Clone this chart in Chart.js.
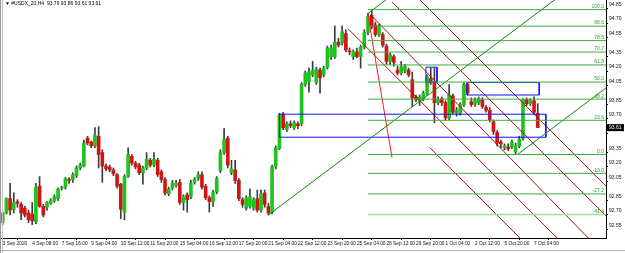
<!DOCTYPE html>
<html>
<head>
<meta charset="utf-8">
<script src="https://cdn.jsdelivr.net/npm/chart.js@4.4.0/dist/chart.umd.min.js"></script>
<style>
  html, body { margin: 0; padding: 0; background: #fff; }
</style>
</head>
<body>
<canvas id="myChart" width="625" height="253"></canvas>
<script>
// #USDX_20, H4 candles (bar index 0 = 3 Sep 2020 00:00)
const opens = [
  92.62, 92.72, 92.87, 92.76, 92.84, 92.81, 92.77, 92.72, 92.71, 92.63,
  93.00, 92.79, 92.78, 92.82, 92.85, 92.87, 92.98, 92.99, 93.07, 93.07,
  93.11, 93.19, 93.21, 93.50, 93.46, 93.42, 93.52, 93.35, 93.21, 93.20,
  93.17, 93.12, 93.02, 92.73, 93.10, 93.31, 93.24, 93.22, 93.14, 93.19,
  93.27, 93.22, 93.27, 93.15, 93.07, 92.92, 92.98, 93.01, 93.04, 92.83,
  92.91, 92.89, 93.04, 93.08, 93.12, 93.00, 92.88, 92.84, 92.94, 93.16,
  93.35, 93.50, 93.14, 93.17, 93.06, 92.86, 92.77, 92.79, 92.77, 92.87,
  92.75, 92.93, 92.79, 92.73, 93.20, 93.39, 93.75, 93.59, 93.65, 93.61,
  93.65, 93.65, 94.06, 94.09, 94.16, 94.08, 94.21, 94.16, 94.24, 94.35,
  94.35, 94.50, 94.49, 94.59, 94.41, 94.35, 94.40, 94.35, 94.45, 94.60,
  94.78, 94.68, 94.58, 94.58, 94.46, 94.30, 94.35, 94.21, 94.18, 94.20,
  94.21, 94.11, 93.93, 93.89, 93.91, 93.97, 94.12, 94.09, 93.87, 93.91,
  93.87, 93.71, 93.94, 93.76, 93.76, 93.85, 94.06, 93.88, 93.85, 93.87,
  93.90, 93.82, 93.79, 93.67, 93.56, 93.46, 93.40, 93.41, 93.41, 93.36,
  93.42, 93.50, 93.90, 93.86, 93.89, 93.76
];
const highs = [
  92.73, 92.88, 93.03, 92.93, 92.86, 92.83, 92.79, 92.75, 92.83, 93.03,
  93.10, 92.81, 92.84, 92.87, 92.91, 92.98, 93.00, 93.09, 93.09, 93.14,
  93.21, 93.24, 93.48, 93.52, 93.47, 93.61, 93.62, 93.38, 93.23, 93.22,
  93.19, 93.13, 93.03, 93.12, 93.40, 93.33, 93.26, 93.24, 93.21, 93.35,
  93.29, 93.35, 93.29, 93.17, 93.09, 92.99, 93.06, 93.06, 93.07, 92.91,
  92.93, 93.06, 93.09, 93.15, 93.15, 93.02, 92.90, 92.96, 93.10, 93.38,
  93.60, 93.52, 93.27, 93.27, 93.08, 92.88, 92.90, 92.97, 92.88, 92.96,
  92.96, 92.96, 92.82, 93.22, 93.42, 93.76, 93.77, 93.67, 93.68, 93.68,
  93.67, 94.08, 94.20, 94.23, 94.30, 94.24, 94.23, 94.25, 94.46, 94.47,
  94.67, 94.54, 94.67, 94.63, 94.44, 94.42, 94.44, 94.47, 94.63, 94.80,
  94.84, 94.71, 94.69, 94.60, 94.48, 94.39, 94.37, 94.25, 94.30, 94.27,
  94.23, 94.19, 93.95, 93.95, 93.99, 94.16, 94.23, 94.23, 93.93, 93.93,
  93.89, 94.06, 93.96, 93.82, 93.87, 94.08, 94.08, 93.92, 93.92, 93.93,
  93.92, 93.84, 93.82, 93.69, 93.58, 93.48, 93.44, 93.44, 93.48, 93.45,
  93.52, 93.91, 93.92, 93.91, 93.93, 93.86
];
const lows = [
  92.60, 92.71, 92.70, 92.72, 92.78, 92.65, 92.68, 92.62, 92.60, 92.61,
  92.78, 92.68, 92.75, 92.81, 92.83, 92.85, 92.96, 92.97, 93.03, 93.04,
  93.09, 93.17, 93.20, 93.43, 93.40, 93.40, 93.19, 93.04, 93.16, 93.15,
  93.11, 92.98, 92.66, 92.65, 93.09, 93.22, 93.18, 93.12, 93.02, 93.17,
  93.20, 93.20, 93.10, 93.04, 92.91, 92.90, 92.96, 92.99, 92.81, 92.75,
  92.73, 92.87, 93.02, 93.06, 92.97, 92.86, 92.73, 92.79, 92.92, 93.14,
  93.33, 93.19, 93.12, 93.03, 92.85, 92.78, 92.75, 92.77, 92.75, 92.73,
  92.73, 92.78, 92.70, 92.71, 93.18, 93.38, 93.59, 93.57, 93.61, 93.59,
  93.60, 93.63, 94.04, 93.98, 94.14, 94.06, 93.97, 94.14, 94.22, 94.32,
  94.33, 94.45, 94.47, 94.40, 94.37, 94.32, 94.34, 94.23, 94.43, 94.58,
  94.64, 94.56, 94.56, 94.45, 94.27, 94.27, 94.25, 94.16, 94.16, 94.18,
  94.14, 93.83, 93.88, 93.84, 93.89, 93.95, 94.06, 93.66, 93.85, 93.84,
  93.69, 93.69, 93.75, 93.73, 93.74, 93.83, 93.95, 93.83, 93.83, 93.85,
  93.81, 93.77, 93.67, 93.54, 93.42, 93.40, 93.38, 93.37, 93.39, 93.33,
  93.40, 93.48, 93.84, 93.84, 93.75, 93.61
];
const closes = [
  92.72, 92.87, 92.75, 92.83, 92.82, 92.72, 92.70, 92.65, 92.64, 92.99,
  92.79, 92.70, 92.83, 92.85, 92.89, 92.97, 92.99, 93.08, 93.06, 93.12,
  93.19, 93.22, 93.45, 93.45, 93.42, 93.53, 93.33, 93.21, 93.18, 93.17,
  93.13, 93.00, 92.76, 93.10, 93.33, 93.24, 93.20, 93.14, 93.19, 93.28,
  93.22, 93.28, 93.12, 93.07, 92.93, 92.97, 93.03, 93.03, 92.83, 92.89,
  92.86, 93.03, 93.07, 93.12, 92.99, 92.88, 92.84, 92.94, 93.08, 93.35,
  93.49, 93.22, 93.18, 93.06, 92.87, 92.81, 92.88, 92.89, 92.86, 92.75,
  92.92, 92.81, 92.72, 93.20, 93.40, 93.74, 93.61, 93.65, 93.63, 93.66,
  93.63, 94.06, 94.18, 94.19, 94.21, 94.22, 94.13, 94.23, 94.44, 94.44,
  94.50, 94.47, 94.61, 94.42, 94.40, 94.40, 94.35, 94.45, 94.60, 94.77,
  94.66, 94.58, 94.67, 94.47, 94.30, 94.37, 94.29, 94.18, 94.24, 94.25,
  94.16, 93.92, 93.90, 93.93, 93.97, 94.14, 94.08, 93.87, 93.90, 93.87,
  93.71, 93.95, 93.77, 93.79, 93.85, 94.06, 93.97, 93.85, 93.90, 93.91,
  93.83, 93.79, 93.69, 93.57, 93.45, 93.44, 93.42, 93.39, 93.46, 93.42,
  93.49, 93.90, 93.86, 93.89, 93.77, 93.61
];

// axis labels
const timeLabels = ['3 Sep 2020', '4 Sep 08:00', '7 Sep 16:00', '9 Sep 04:00', '10 Sep 12:00',
  '11 Sep 20:00', '15 Sep 04:00', '16 Sep 12:00', '17 Sep 20:00', '21 Sep 04:00', '22 Sep 12:00',
  '23 Sep 20:00', '25 Sep 04:00', '28 Sep 12:00', '29 Sep 20:00', '1 Oct 04:00', '2 Oct 12:00',
  '5 Oct 20:00', '7 Oct 04:00'];
const priceLabels = ['94.85', '94.70', '94.55', '94.35', '94.20', '94.05', '93.85', '93.70',
  '93.55', '93.35', '93.20', '93.05', '92.85', '92.70', '92.55'];

// fibonacci retracement from the 25 Sep high to the 5 Oct low
const fibLevels = [100, 88.6, 78.6, 70.7, 61.8, 50.0, 38.2, 23.6, 0.0, -13.0, -27.2, -41.4];
const fibHighBar = 100, fibLowBar = 139;

// andrews pitchfork pivots [bar, price]
const forkP1 = [72, 92.70], forkP2 = [99, 94.80], forkP3 = [139.5, 93.33];

// rectangles [bar1, price1, bar2, price2]
const boxes = [
  [75, 93.75, 147.2, 93.51],
  [114.7, 94.24, 117.7, 94.08],
  [125.8, 94.08, 145.4, 93.95]
];

// trend lines [bar1, price1, bar2, price2]
const redLine = [99, 94.78, 105.5, 93.30];
const channelLines = [
  [93.6, 94.64, 163.5, 91.95],
  [99.6, 94.79, 163.5, 92.27],
  [105.5, 94.92, 163.5, 92.69],
  [113.1, 94.94, 163.5, 93.00],
  [115.8, 93.40, 163.5, 91.56]
];

const lastPrice = closes[closes.length - 1];
const header = '#USDX_20,H4  ' + [opens, highs, lows, closes].map(a => a[a.length - 1].toFixed(2)).join(' ');

const X_MIN = -0.46, X_MAX = 163.5;
const smallFont = '"Liberation Sans", sans-serif';

function seg(a, color, width) {
  return {
    type: 'line',
    data: [{ x: a[0], y: a[1] }, { x: a[2], y: a[3] }],
    borderColor: color, borderWidth: width || 1,
    pointRadius: 0, fill: false, tension: 0, order: -1
  };
}

const datasets = [];

// candles: wicks then bodies
datasets.push({
  type: 'bar',
  data: highs.map((h, i) => ({ x: i, y: [lows[i], h] })),
  backgroundColor: '#3c3c3c',
  barThickness: 1,
  grouped: false,
  order: 2
});
datasets.push({
  type: 'bar',
  data: opens.map((o, i) => ({ x: i, y: [o, closes[i]] })),
  backgroundColor: opens.map((o, i) => closes[i] >= o ? '#1cc41c' : '#d41414'),
  borderWidth: 0,
  barThickness: 3,
  minBarLength: 1,
  grouped: false,
  order: 1
});

// fibonacci levels
const fibH = highs[fibHighBar], fibL = lows[fibLowBar];
fibLevels.forEach(lv => {
  const p = fibL + (fibH - fibL) * lv / 100;
  datasets.push(seg([fibHighBar - 1, p, X_MAX, p], lv === -41.4 ? '#9ede9e' : '#3fae3f', lv === -41.4 ? 1.5 : 1));
});

// pitchfork
const mid = [(forkP2[0] + forkP3[0]) / 2, (forkP2[1] + forkP3[1]) / 2];
const slope = (mid[1] - forkP1[1]) / (mid[0] - forkP1[0]);
[forkP1, forkP2, forkP3].forEach(p => {
  datasets.push(seg([p[0], p[1], X_MAX, p[1] + slope * (X_MAX - p[0])], '#0a8a0a', 1));
});

// rectangles
boxes.forEach(b => {
  datasets.push({
    type: 'line',
    data: [{ x: b[0], y: b[1] }, { x: b[2], y: b[1] }, { x: b[2], y: b[3] }, { x: b[0], y: b[3] }, { x: b[0], y: b[1] }],
    borderColor: '#1010ff', borderWidth: 1, pointRadius: 0, fill: false, tension: 0, order: -1
  });
});

// red lines
channelLines.forEach(l => datasets.push(seg(l, '#a01010', 1)));
datasets.push(seg(redLine, '#ff1a1a', 1));

const mtPlugin = {
  id: 'mtDecor',
  afterDraw(chart) {
    const ctx = chart.ctx;
    const xs = chart.scales.x, ys = chart.scales.y;
    ctx.save();
    // window frame at left
    ctx.fillStyle = '#9a9a9a';
    ctx.fillRect(0, 0, 1, 253);
    ctx.fillStyle = '#c4c4c4';
    ctx.fillRect(2, 0, 1, 253);
    // header
    ctx.font = '5px ' + smallFont;
    ctx.fillStyle = '#000';
    ctx.textBaseline = 'middle';
    ctx.textAlign = 'left';
    ctx.fillText('\u25BC ' + header, 5, 4);
    // fib labels
    ctx.fillStyle = '#2f9e2f';
    ctx.textAlign = 'right';
    ctx.textBaseline = 'bottom';
    fibLevels.forEach(lv => {
      const p = fibL + (fibH - fibL) * lv / 100;
      ctx.fillText(lv.toFixed(1), xs.right - 2, ys.getPixelForValue(p) - 0.5);
    });
    // current price box
    const py = ys.getPixelForValue(lastPrice);
    ctx.fillStyle = '#000';
    ctx.fillRect(xs.right + 1, py - 3.5, 17, 7);
    ctx.fillStyle = '#fff';
    ctx.textAlign = 'left';
    ctx.textBaseline = 'middle';
    ctx.fillText(lastPrice.toFixed(2), xs.right + 3, py);
    // tab strip at the bottom
    ctx.fillStyle = '#b4b4b4';
    ctx.fillRect(0, 250, 625, 1);
    ctx.restore();
  }
};

const config = {
  type: 'bar',
  data: { datasets },
  options: {
    responsive: false,
    animation: false,
    layout: { padding: { left: 1, top: 0, right: 0, bottom: 0 } },
    plugins: { legend: { display: false }, tooltip: { enabled: false } },
    scales: {
      x: {
        type: 'linear', min: X_MIN, max: X_MAX, offset: false,
        grid: { display: true, drawOnChartArea: false, drawTicks: true, tickLength: 2, color: '#000' },
        border: { display: true, color: '#000' },
        afterBuildTicks: s => { s.ticks = timeLabels.map((t, k) => ({ value: k * 8 })); },
        afterFit: s => { s.height = 15; s.paddingLeft = 0; s.paddingRight = 0; },
        ticks: {
          autoSkip: false, maxRotation: 0, align: 'start', padding: 1,
          color: '#111', font: { family: 'Liberation Sans', size: 4.8 },
          callback: (v, i) => timeLabels[i]
        }
      },
      y: {
        position: 'right', min: 92.46, max: 94.94,
        grid: { display: true, drawOnChartArea: false, drawTicks: true, tickLength: 2, color: '#000' },
        border: { display: true, color: '#000' },
        afterBuildTicks: s => { s.ticks = priceLabels.map(t => ({ value: parseFloat(t) })); },
        afterFit: s => { s.width = 19; s.paddingTop = 0; s.paddingBottom = 0; },
        ticks: {
          autoSkip: false, padding: 1, labelOffset: -4,
          color: '#111', font: { family: 'Liberation Sans', size: 5 },
          callback: (v, i) => priceLabels[i]
        }
      }
    }
  },
  plugins: [mtPlugin]
};

const myChart = new Chart(document.getElementById('myChart'), config);
</script>
</body>
</html>
